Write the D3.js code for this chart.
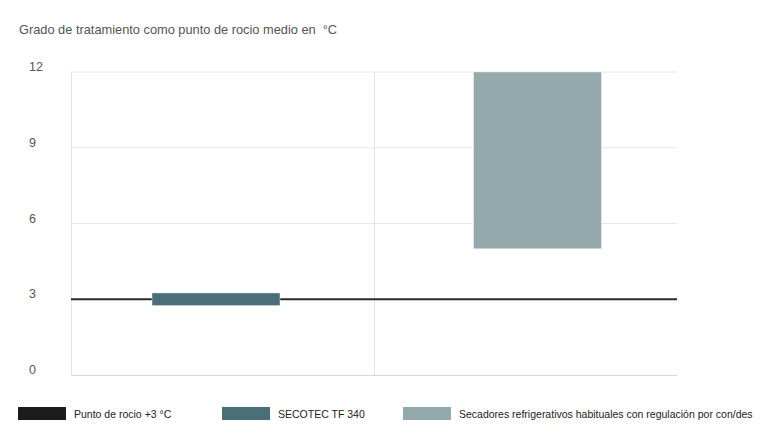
<!DOCTYPE html>
<html><head><meta charset="utf-8">
<script src="https://cdn.jsdelivr.net/npm/d3@7"></script>
<style>body{margin:0;background:#fff;}svg{display:block;font-family:"Liberation Sans",Arial,sans-serif;}</style>
</head><body><svg id="c" width="770" height="433"></svg>
<script>
const title = "Grado de tratamiento como punto de rocio medio en  °C";
const categories = ["SECOTEC TF 340", "Secadores refrigerativos habituales con regulación por con/des"];
const lowValues = [2.75, 5];
const highValues = [3.25, 12];
const barColors = ["#4a6f79", "#93a9ab"];
const referenceValue = 3;
const yTicks = [0, 3, 6, 9, 12];
const legendLabels = ["Punto de rocio +3 °C", "SECOTEC TF 340", "Secadores refrigerativos habituales con regulación por con/des"];
const legendColors = ["#1c1c1c", "#4a6f79", "#93a9ab"];

const svg = d3.select("#c");
const L = 71, R = 677, T = 72, B = 375;
const x = d3.scaleBand().domain(categories).range([L, 682.5]).paddingInner(0.602).paddingOuter(0.252);
const xGrid = d3.scaleBand().domain(categories).range([L, R]);
const y = d3.scaleLinear().domain([0, 12]).range([B, T]);

svg.append("text").attr("x", 19).attr("y", 34).attr("font-size", 12.8).attr("fill", "#555").style("white-space", "pre").text(title);

// horizontal grid
svg.append("g").selectAll("line").data(yTicks.filter(d => d !== 0 && d !== referenceValue)).join("line")
  .attr("x1", L).attr("x2", R).attr("y1", d => y(d)).attr("y2", d => y(d))
  .attr("stroke", "#e8e8e8").attr("stroke-width", 1);
// vertical grid at category boundaries
svg.append("g").selectAll("line").data(categories).join("line")
  .attr("x1", d => Math.round(xGrid(d)) + 0.5).attr("x2", d => Math.round(xGrid(d)) + 0.5)
  .attr("y1", T).attr("y2", B)
  .attr("stroke", "#e3e3e3").attr("stroke-width", 1);
// bottom axis line
svg.append("line").attr("x1", L).attr("x2", R).attr("y1", B + 0.5).attr("y2", B + 0.5)
  .attr("stroke", "#d6d6d6").attr("stroke-width", 1);

// y tick labels
svg.append("g").selectAll("text").data(yTicks).join("text")
  .attr("x", 29).attr("y", d => y(d) - 1).attr("font-size", 12.5).attr("fill", "#555")
  .text(d => d);

// reference line
svg.append("line").attr("x1", L).attr("x2", R).attr("y1", y(referenceValue)).attr("y2", y(referenceValue))
  .attr("stroke", "#2a2a2a").attr("stroke-width", 2);

// floating bars
svg.append("g").selectAll("rect").data(categories).join("rect")
  .attr("x", d => x(d)).attr("width", x.bandwidth())
  .attr("y", (d, i) => y(highValues[i])).attr("height", (d, i) => y(lowValues[i]) - y(highValues[i]))
  .attr("fill", (d, i) => barColors[i]).attr("stroke", "#fff").attr("stroke-opacity", 0.4).attr("stroke-width", 1);

// legend
const legX = [18, 222, 403];
const lg = svg.append("g").selectAll("g").data(legendLabels).join("g")
  .attr("transform", (d, i) => `translate(${legX[i]},407)`);
lg.append("rect").attr("width", 48).attr("height", 13).attr("fill", (d, i) => legendColors[i]);
lg.append("text").attr("x", 56).attr("y", 10.5).attr("font-size", 10.5).attr("fill", "#222").text(d => d);
</script></body></html>
